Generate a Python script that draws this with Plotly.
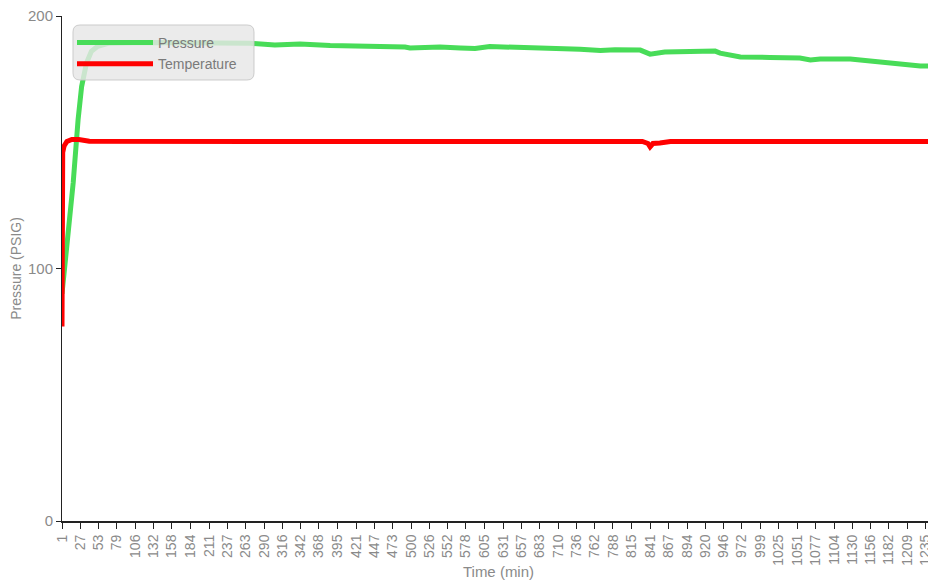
import plotly.graph_objects as go

# ---- data ----
pressure_time = [1, 10, 17, 24, 29, 36, 43, 52, 67, 120, 200, 270, 305, 341, 384,
                 462, 491, 498, 541, 570, 591, 612, 641, 655, 684, 712, 741, 770,
                 791, 827, 841, 862, 912, 934, 941, 970, 1012, 1055, 1070, 1084,
                 1127, 1155, 1177, 1198, 1227, 1248]
pressure_psig = [90, 114, 134, 159, 172, 181.4, 186, 188, 189.2, 189.5, 189.5, 189.2,
                 188.5, 188.9, 188.3, 188.1, 187.7, 187.3, 187.7, 187.3, 187.1, 187.9,
                 187.7, 187.5, 187.3, 186.9, 186.8, 186.3, 186.6, 186.5, 184.9, 185.7,
                 186.1, 186.1, 185.3, 183.8, 183.6, 183.4, 182.6, 183.0, 183.0, 182.2,
                 181.4, 180.8, 180.2, 180.2]

temp_time = [1, 2, 4, 8, 15, 25, 40, 120, 400, 830, 838, 841, 845, 855, 870, 1000, 1248]
temperature = [77, 146, 148.5, 150.3, 151.1, 151.1, 150.4, 150.3, 150.3, 150.3, 149.5,
               148.2, 149.5, 149.7, 150.3, 150.3, 150.3]

x_tick_labels = [1, 27, 53, 79, 106, 132, 158, 184, 211, 237, 263, 290, 316, 342, 368,
                 395, 421, 447, 473, 500, 526, 552, 578, 605, 631, 657, 683, 710, 736,
                 762, 788, 815, 841, 867, 894, 920, 946, 972, 999, 1025, 1051, 1077,
                 1104, 1130, 1156, 1182, 1209, 1235]
y_tick_values = [0, 100, 200]

FONT = "Liberation Sans, Arial, sans-serif"
GREY = "#8a8a8a"

# page offset of the figure (default body margin of the html page)
OFF = 8
W, H = 936 - OFF, 587 - OFF
# plot area in page pixels: x 62..935, y 16..521
PL, PR, PT, PB = 62, 935, 16, 521
ML, MT = PL - OFF, PT - OFF
MR = W - (PR - OFF)
MB = H - (PB - OFF)
PW, PH = PR - PL, PB - PT


def px2paper(x, y):
    """page pixel -> plot-area paper fraction"""
    return (x - PL) / PW, (PB - y) / PH


fig = go.Figure()
fig.add_trace(go.Scatter(
    x=pressure_time, y=pressure_psig, mode="lines", name="Pressure",
    line=dict(color="#48dc58", width=5), legendrank=1))
fig.add_trace(go.Scatter(
    x=temp_time, y=temperature, mode="lines", name="Temperature",
    line=dict(color="#ff0000", width=5), legendrank=2))

# rounded legend background
x0, y0, x1, y1, r = 73, 25, 254, 80, 7
def P(x, y):
    a, b = px2paper(x, y)
    return f"{a:.5f},{b:.5f}"
path = (f"M {P(x0 + r, y0)} L {P(x1 - r, y0)} Q {P(x1, y0)} {P(x1, y0 + r)} "
        f"L {P(x1, y1 - r)} Q {P(x1, y1)} {P(x1 - r, y1)} "
        f"L {P(x0 + r, y1)} Q {P(x0, y1)} {P(x0, y1 - r)} "
        f"L {P(x0, y0 + r)} Q {P(x0, y0)} {P(x0 + r, y0)} Z")
fig.add_shape(type="path", path=path, xref="paper", yref="paper", layer="above",
              fillcolor="rgba(230,230,230,0.82)",
              line=dict(color="rgba(200,200,200,0.9)", width=1))

lx, ly = px2paper(72, 27)
fig.update_layout(
    width=W, height=H,
    margin=dict(l=ML, r=MR, t=MT, b=MB, pad=0, autoexpand=False),
    paper_bgcolor="white", plot_bgcolor="white",
    font=dict(family=FONT, size=15, color=GREY),
    showlegend=True,
    legend=dict(x=lx, y=ly, xanchor="left", yanchor="top",
                bgcolor="rgba(0,0,0,0)", borderwidth=0,
                itemwidth=76, font=dict(family=FONT, size=14, color="#7a7a7a"),
                tracegroupgap=0),
    xaxis=dict(
        range=[1, 1248], tickmode="array", tickvals=x_tick_labels,
        ticktext=[str(v) for v in x_tick_labels], tickangle=-90,
        ticks="outside", ticklen=6, tickwidth=1, tickcolor="#222",
        showline=True, linecolor="#222", linewidth=2,
        showgrid=False, zeroline=False, automargin=False,
        ticklabeloverflow="allow",
        tickfont=dict(family=FONT, size=14, color=GREY),
        title=dict(text="Time (min)", font=dict(family=FONT, size=15, color=GREY),
                   standoff=2),
    ),
    yaxis=dict(
        range=[0, 200], tickmode="array", tickvals=y_tick_values,
        ticks="outside", ticklen=5, tickwidth=1, tickcolor="#222",
        showline=True, linecolor="#222", linewidth=1,
        showgrid=False, zeroline=False, automargin=False,
        ticklabeloverflow="allow",
        tickfont=dict(family=FONT, size=15, color=GREY),
        title=dict(text="Pressure (PSIG)", font=dict(family=FONT, size=14, color=GREY),
                   standoff=6),
    ),
)

fig.write_html("out.html")
